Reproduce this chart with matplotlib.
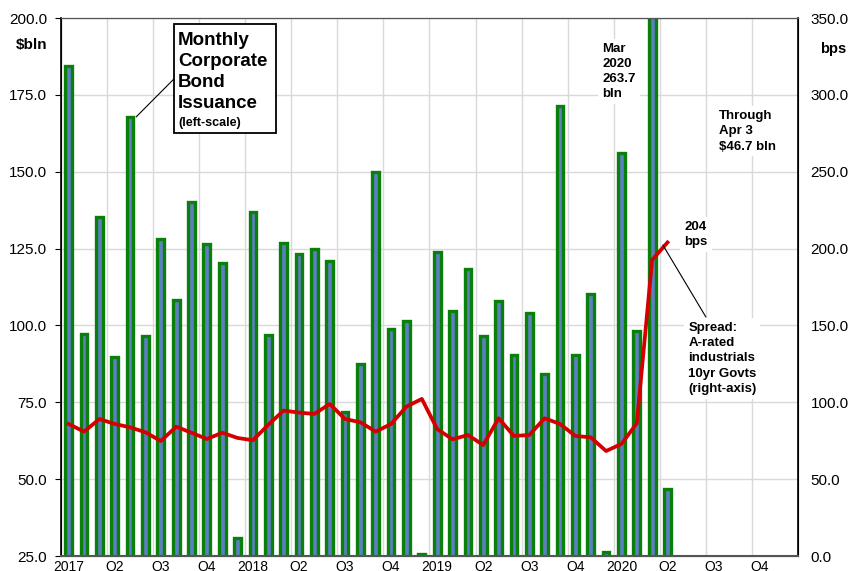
import numpy as np
import matplotlib
matplotlib.use("Agg")
import matplotlib.pyplot as plt
from matplotlib.patches import Rectangle

plt.rcParams['font.family'] = ['Liberation Sans', 'DejaVu Sans']

# Monthly issuance, $bln, Jan 2017 .. Apr 2020
issuance = [184.4, 97.2, 135.3, 89.7, 167.8, 96.5, 128.1, 108.3, 140.1, 126.5, 120.3, 31.0,
            136.9, 96.9, 126.8, 123.2, 124.9, 121.0, 71.8, 87.4, 149.9, 98.8, 101.4, 25.5,
            123.9, 104.7, 118.4, 96.5, 107.9, 90.4, 104.0, 84.2, 171.4, 90.4, 110.2, 26.3,
            156.1, 98.2, 263.7, 46.7]
# A-rated industrials spread over 10yr Govts, bps
spread = [85.9, 80.9, 89.1, 85.9, 83.7, 80.5, 74.8, 84.1, 80.2, 76.1, 80.2, 76.8,
          75.3, 85.4, 94.6, 93.3, 92.4, 98.9, 89.1, 87.0, 80.9, 85.9, 97.2, 102.2,
          82.6, 75.9, 78.7, 72.2, 89.6, 78.1, 78.7, 89.6, 85.9, 78.1, 77.2, 68.3,
          72.9, 86.3, 192.6, 204.0]
n_months = 48
tick_labels = ["2017", "Q2", "Q3", "Q4", "2018", "Q2", "Q3", "Q4",
               "2019", "Q2", "Q3", "Q4", "2020", "Q2", "Q3", "Q4"]

W, H = 851, 571
fig = plt.figure(figsize=(W / 100, H / 100), dpi=100)
ax = fig.add_axes([61/W, 1-556/H, (798-61)/W, (556-18)/H])
ax2 = ax.twinx()

x = np.arange(len(issuance))
ax.bar(x, issuance, width=0.44, color="#5b7fc0", edgecolor="#0a800a",
       linewidth=2.4, zorder=2)
ax2.plot(np.arange(len(spread)), spread, color="#d40000", lw=2.7,
         solid_joinstyle="round", zorder=3)

ax.set_xlim(-0.5, n_months - 0.5)
ax.set_ylim(25, 200)
ax2.set_ylim(0, 350)
ax.set_yticks(np.arange(25, 201, 25))
ax2.set_yticks(np.arange(0, 351, 50))
ax.yaxis.set_major_formatter(matplotlib.ticker.FormatStrFormatter('%.1f'))
ax2.yaxis.set_major_formatter(matplotlib.ticker.FormatStrFormatter('%.1f'))

# quarter labels centred on months, grid on quarter boundaries
ax.set_xticks(np.arange(0, n_months, 3))
ax.set_xticklabels(tick_labels)
ax.set_xticks(np.arange(-0.5, n_months, 3), minor=True)
ax.tick_params(axis='x', which='both', length=0, labelsize=10, pad=3)
ax.tick_params(axis='y', length=4, labelsize=11, pad=6)
ax2.tick_params(axis='y', length=0, labelsize=11, pad=9)
ax.grid(True, axis='y', color="#d9d9d9", lw=1)
ax.grid(True, axis='x', which='minor', color="#d9d9d9", lw=1)
ax.set_axisbelow(True)

for sp in ['left', 'right']:
    ax2.spines[sp].set_color('black')
    ax2.spines[sp].set_linewidth(1.2)
ax2.spines['top'].set_color('#555555')
ax2.spines['bottom'].set_color('#555555')
ax2.spines['bottom'].set_linewidth(1.5)

fig.text(32/W, 1-45/H, "$bln", fontsize=11, fontweight='bold',
         ha='center', va='center')
fig.text(833/W, 1-49/H, "bps", fontsize=10.5, fontweight='bold',
         ha='center', va='center')

# title box with leader to the May 2017 bar
fig.patches.append(Rectangle((174/W, 1-133/H), 102/W, 109/H, transform=fig.transFigure,
                             fc='white', ec='black', lw=1.3, zorder=5))
fig.text(178/W, 1-72/H, "Monthly\nCorporate\nBond\nIssuance", fontsize=13.5,
         fontweight='bold', ha='left', va='center', linespacing=1.32, zorder=6)
fig.text(178/W, 1-123/H, "(left-scale)", fontsize=9, fontweight='bold',
         ha='left', va='center', zorder=6)
ax.annotate("", xy=(4.39, 167.8), xytext=(6.86, 180.2),
            arrowprops=dict(arrowstyle='-', color='black', lw=0.8,
                            shrinkA=0, shrinkB=0))

box = dict(boxstyle='square,pad=0.3', fc='white', ec='none')
ax.text(34.75, 192.0, "Mar\n2020\n263.7\nbln", fontsize=9.5, fontweight='bold',
        ha='left', va='top', linespacing=1.35, zorder=5, bbox=box)
ax.text(42.37, 170.0, "Through\nApr 3\n$46.7 bln", fontsize=9.5, fontweight='bold',
        ha='left', va='top', linespacing=1.35, zorder=5, bbox=box)
ax2.text(40.1, 209, "204\nbps", fontsize=9.5, fontweight='bold',
         ha='left', va='center', linespacing=1.35, zorder=5, bbox=box)
ax2.text(40.35, 152.5, "Spread:\nA-rated\nindustrials\n10yr Govts\n(right-axis)",
         fontsize=9.5, fontweight='bold', ha='left', va='top', linespacing=1.38,
         zorder=5, bbox=box)
ax2.annotate("", xy=(38.7, 202.3), xytext=(41.5, 155.5),
             arrowprops=dict(arrowstyle='-', color='black', lw=0.8,
                             shrinkA=0, shrinkB=0), zorder=6)

fig.savefig("out.png", dpi=100)
